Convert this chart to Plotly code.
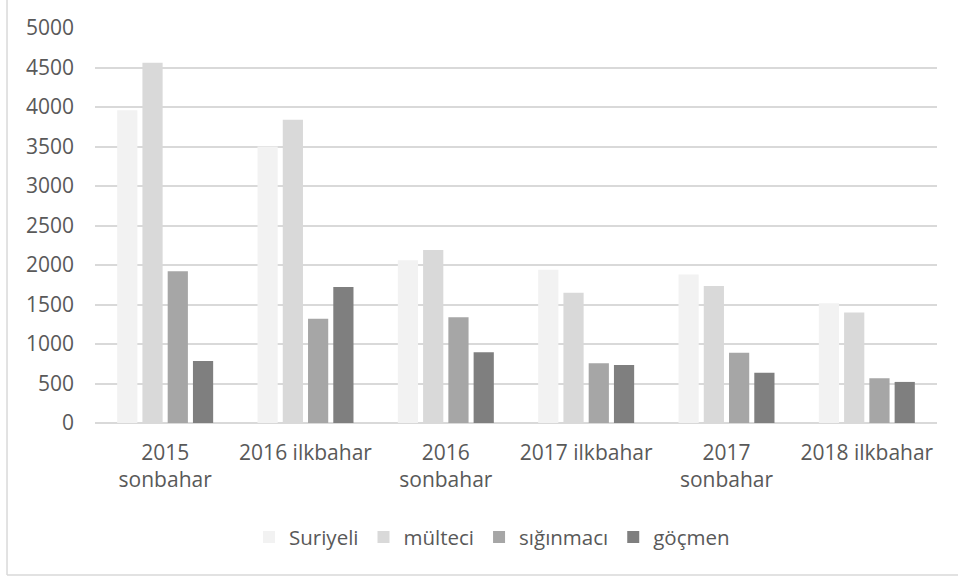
import plotly.graph_objects as go

categories = ["2015<br>sonbahar", "2016 ilkbahar", "2016<br>sonbahar",
              "2017 ilkbahar", "2017<br>sonbahar", "2018 ilkbahar"]
suriyeli = [3960, 3500, 2060, 1940, 1880, 1515]
multeci = [4560, 3840, 2190, 1650, 1735, 1400]
siginmaci = [1920, 1320, 1340, 755, 890, 565]
gocmen = [785, 1720, 895, 735, 635, 520]
y_ticks = [0, 500, 1000, 1500, 2000, 2500, 3000, 3500, 4000, 4500, 5000]

series = [("Suriyeli", suriyeli, "#f2f2f2"),
          ("mülteci", multeci, "#d9d9d9"),
          ("sığınmacı", siginmaci, "#a6a6a6"),
          ("göçmen", gocmen, "#7f7f7f")]

fig = go.Figure()
for name, vals, col in series:
    fig.add_trace(go.Bar(x=categories, y=vals, name=name,
                         marker=dict(color=col, line=dict(width=0))))

FONT = "Open Sans"
fig.update_layout(
    width=958, height=579,
    margin=dict(l=95, r=21, t=28, b=156),
    paper_bgcolor="white", plot_bgcolor="white",
    barmode="group", bargap=0.28, bargroupgap=0.2,
    font=dict(family=FONT, size=21, color="#595959"),
    showlegend=True,
    legend=dict(orientation="h", x=0.4715, xanchor="center", y=-0.289, yanchor="middle",
                font=dict(family=FONT, size=20.5, color="#595959")),
    xaxis=dict(showgrid=False, showline=False, ticks="", tickfont=dict(size=21),
               zeroline=False, ticklabelstandoff=15),
    yaxis=dict(range=[0, 5000], tickvals=y_ticks, showgrid=True, gridcolor="#d9d9d9",
               gridwidth=1.5, zeroline=True, zerolinecolor="#d9d9d9", zerolinewidth=1.5,
               showline=False, ticks="", ticklabelstandoff=20, tickfont=dict(size=21)),
    shapes=[
        dict(type="line", xref="paper", yref="paper", x0=-0.1045, x1=-0.1045,
             y0=-0.385, y1=1.2, line=dict(color="#d9d9d9", width=1.5)),
        dict(type="line", xref="paper", yref="paper", x0=-0.1045, x1=1.1,
             y0=-0.385, y1=-0.385, line=dict(color="#d9d9d9", width=1.5)),
    ],
)

fig.write_html("out.html", config={"displayModeBar": False},
               post_script="document.body.style.margin='0';")
